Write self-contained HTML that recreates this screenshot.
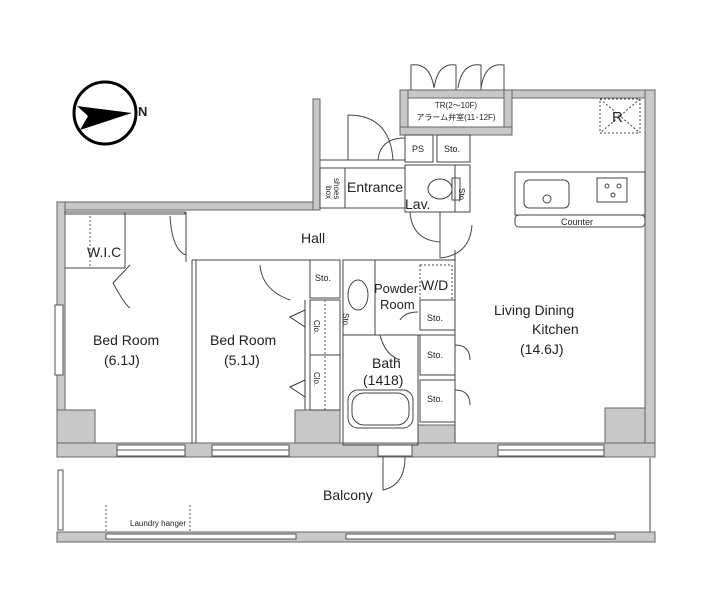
<!DOCTYPE html>
<html><head><meta charset="utf-8"><style>
html,body{margin:0;padding:0;background:#fff}
svg{display:block}
text{font-family:"Liberation Sans","Noto Sans CJK JP",sans-serif;fill:#222}
</style></head><body>
<svg width="705" height="602" viewBox="0 0 705 602" xmlns="http://www.w3.org/2000/svg">
<circle cx="105" cy="113" r="31" fill="none" stroke="#000" stroke-width="3"/>
<polygon points="77,106 132,113 80,130 88,116" fill="#000"/>
<text x="138" y="116" font-size="13" font-weight="bold">N</text>

<g fill="#c8c8c8" stroke="#666" stroke-width="1">
<rect x="57" y="202" width="263" height="8"/>
<rect x="313" y="99" width="7" height="111"/>
<rect x="57" y="202" width="8" height="253"/>
<rect x="400" y="90" width="112" height="8"/>
<rect x="400" y="90" width="8" height="45"/>
<rect x="504" y="90" width="8" height="45"/>
<rect x="400" y="127" width="112" height="8"/>
<rect x="512" y="90" width="143" height="8"/>
<rect x="645" y="90" width="10" height="365"/>
<rect x="57" y="443" width="598" height="14"/>
<polygon points="57,410 95,410 95,443 57,443"/>
<polygon points="295,410 340,410 340,443 295,443"/>
<polygon points="418,425 455,425 455,443 418,443"/>
<polygon points="605,408 645,408 645,443 605,443"/>
<rect x="57" y="532" width="598" height="10"/>
</g>
<g fill="#fff" stroke="#555" stroke-width="1">
<rect x="117" y="445" width="68" height="11"/><line x1="117" y1="450" x2="185" y2="450"/>
<rect x="212" y="445" width="77" height="11"/><line x1="212" y1="450" x2="289" y2="450"/>
<rect x="378" y="445" width="34" height="11"/>
<rect x="498" y="445" width="106" height="11"/><line x1="498" y1="450" x2="604" y2="450"/>
<rect x="106" y="534" width="190" height="5"/>
<rect x="346" y="534" width="269" height="5"/>
<rect x="58" y="470" width="5" height="60"/>
<rect x="55" y="305" width="8" height="70"/>
</g>
<g fill="none" stroke="#444" stroke-width="1">
<line x1="650" y1="458" x2="650" y2="532"/>
<rect x="65" y="212" width="120" height="2"/>
<line x1="65" y1="268" x2="125" y2="268"/>
<line x1="125" y1="212" x2="125" y2="268"/>
<line x1="186" y1="212" x2="186" y2="262"/>
<line x1="192" y1="260" x2="192" y2="443"/>
<line x1="196" y1="260" x2="196" y2="443"/>
<line x1="192" y1="260" x2="310" y2="260"/>
<rect x="310" y="260" width="30" height="38"/>
<rect x="310" y="300" width="30" height="110"/>
<line x1="305" y1="300" x2="305" y2="410"/>
<line x1="310" y1="355" x2="340" y2="355"/>
<rect x="343" y="260" width="112" height="75"/>
<line x1="375" y1="260" x2="375" y2="335"/>
<rect x="420" y="265" width="32" height="35" stroke-dasharray="2,2"/>
<rect x="343" y="335" width="75" height="110"/>
<rect x="348" y="390" width="65" height="38" rx="10"/>
<rect x="352" y="393" width="57" height="32" rx="12"/>
<rect x="420" y="300" width="35" height="30"/>
<rect x="420" y="335" width="35" height="40"/>
<rect x="420" y="380" width="35" height="42"/>
<line x1="455" y1="250" x2="455" y2="443"/>
<rect x="320" y="168" width="85" height="40"/>
<line x1="345" y1="168" x2="345" y2="208"/>
<rect x="405" y="165" width="65" height="47"/>
<line x1="455" y1="165" x2="455" y2="212"/>
<rect x="405" y="135" width="28" height="27"/>
<rect x="437" y="135" width="33" height="27"/>
<line x1="320" y1="160" x2="405" y2="160"/>
<rect x="515" y="172" width="130" height="43"/>
<rect x="515" y="215" width="130" height="12" rx="4"/>
<rect x="524" y="180" width="45" height="28" rx="5"/>
<circle cx="547" cy="199" r="4"/>
<rect x="597" y="178" width="30" height="24"/>
<circle cx="607" cy="186" r="2"/><circle cx="619" cy="186" r="2"/><circle cx="613" cy="195" r="2"/>
<rect x="600" y="99" width="40" height="34" stroke-dasharray="2,2"/>
<line x1="600" y1="99" x2="640" y2="133" stroke-dasharray="2,2"/>
<line x1="640" y1="99" x2="600" y2="133" stroke-dasharray="2,2"/>
<ellipse cx="440" cy="189" rx="12" ry="10"/>
<rect x="452" y="178" width="8" height="22"/>
<ellipse cx="358" cy="295" rx="10" ry="15"/>
<path d="M411,90 L411,65 Q430,62 434,88"/><path d="M458,88 Q462,62 481,65 L481,90"/>
<path d="M434,88 Q438,62 456,65 L456,90"/><path d="M481,88 Q485,62 504,65 L504,90"/>
<path d="M348,115 L348,160 M348,115 Q390,115 393,160"/>
<path d="M378,160 Q380,138 405,138"/>
<path d="M170,216 Q172,250 186,255"/>
<path d="M113,283 L130,265 M113,283 Q125,305 130,308"/>
<path d="M260,265 Q262,290 290,300"/>
<path d="M410,212 Q412,240 440,242"/>
<path d="M440,212 L440,258 Q470,255 472,225"/>
<path d="M380,335 Q385,355 400,360"/>
<path d="M400,320 Q405,312 418,312"/>
<path d="M383,457 L383,490 Q405,485 405,457"/>
<path d="M455,345 Q470,345 470,360 M455,390 Q470,390 470,405"/>
</g>
<g stroke="#555" stroke-dasharray="2,2" fill="none">
<line x1="325" y1="300" x2="325" y2="410"/>
<line x1="90" y1="216" x2="90" y2="268"/>
<line x1="106" y1="505" x2="106" y2="532"/><line x1="190" y1="505" x2="190" y2="532"/>
</g>
<g fill="#fff" stroke="#333">
<polygon points="290,317 305,310 305,327"/>
<polygon points="290,387 305,380 305,397"/>
</g>

<g font-size="9">
<text x="456" y="108" font-size="8" text-anchor="middle">TR(2〜10F)</text>
<text x="456" y="120" font-size="8" text-anchor="middle">アラーム弁室(11･12F)</text>
<text x="412" y="152">PS</text>
<text x="444" y="152">Sto.</text>
<text x="315" y="281">Sto.</text>
<text x="427" y="321">Sto.</text>
<text x="427" y="358">Sto.</text>
<text x="427" y="402">Sto.</text>
<text x="561" y="225">Counter</text>
<text x="130" y="526" font-size="8">Laundry hanger</text>
</g>
<g font-size="8">
<text transform="translate(334,178) rotate(90)">shoes</text>
<text transform="translate(326,186) rotate(90)">box</text>
<text transform="translate(314,320) rotate(90)">Clo.</text>
<text transform="translate(314,372) rotate(90)">Clo.</text>
<text transform="translate(343,313) rotate(90)">Sto.</text>
<text transform="translate(459,188) rotate(90)">Sto.</text>
</g>
<g font-size="14">
<text x="347" y="192">Entrance</text>
<text x="405" y="209">Lav.</text>
<text x="301" y="243">Hall</text>
<text x="87" y="257">W.I.C</text>
<text x="612" y="122" font-size="15">R</text>
<text x="93" y="345">Bed Room</text>
<text x="104" y="365">(6.1J)</text>
<text x="210" y="345">Bed Room</text>
<text x="224" y="365">(5.1J)</text>
<text x="374" y="293" font-size="13">Powder</text>
<text x="380" y="309" font-size="13">Room</text>
<text x="421" y="290">W/D</text>
<text x="372" y="368">Bath</text>
<text x="363" y="385">(1418)</text>
<text x="494" y="315">Living Dining</text>
<text x="532" y="334">Kitchen</text>
<text x="520" y="354">(14.6J)</text>
<text x="323" y="500">Balcony</text>
</g>
</svg>
</body></html>
